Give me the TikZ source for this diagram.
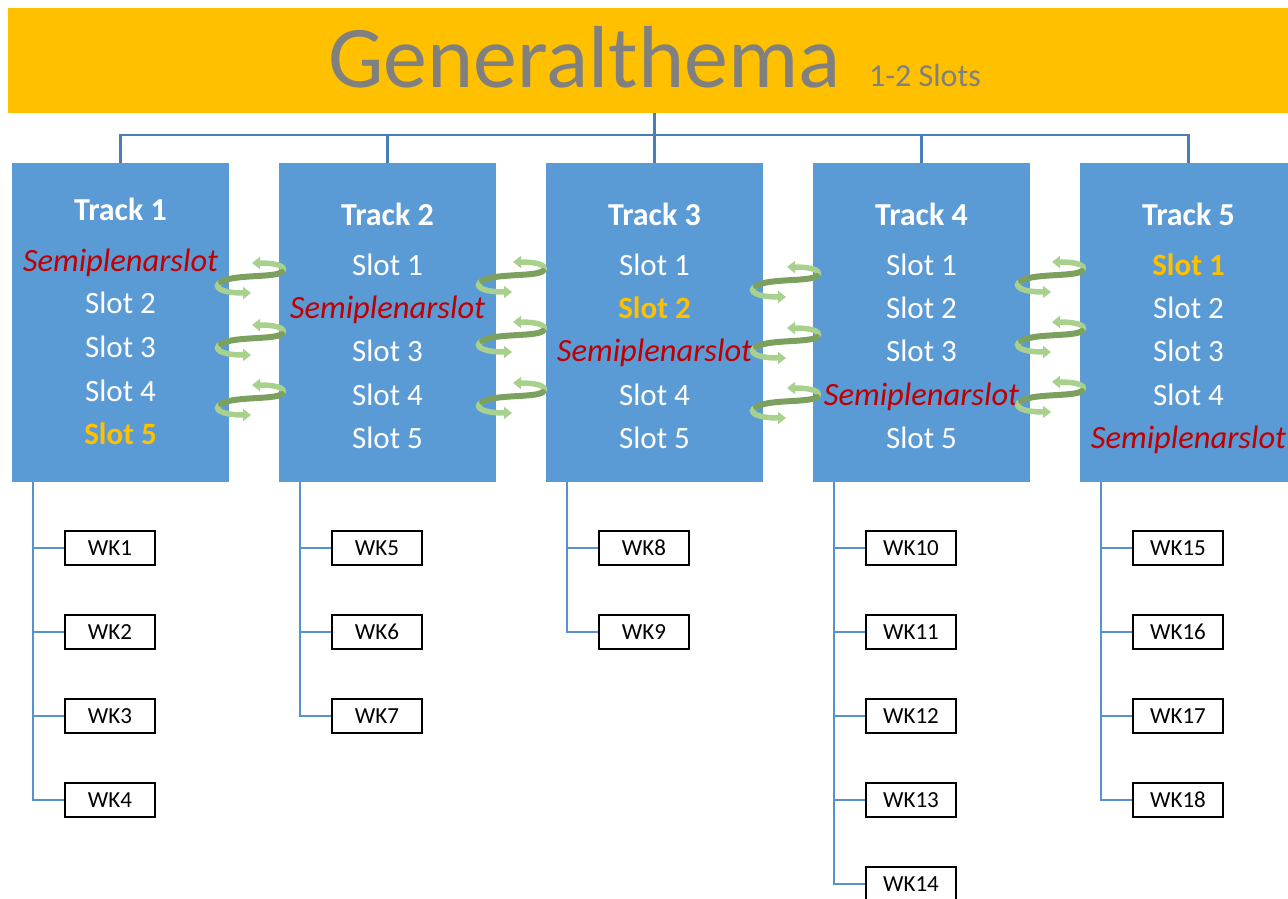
\documentclass[tikz,border=0pt]{standalone}
\usepackage{fontspec}
\setmainfont{Carlito}
\usetikzlibrary{arrows.meta}

\definecolor{barorange}{RGB}{255,192,0}
\definecolor{titlegray}{RGB}{128,128,128}
\definecolor{trackblue}{RGB}{91,155,213}
\definecolor{treeblue}{RGB}{74,126,187}
\definecolor{subblue}{RGB}{88,146,206}
\definecolor{semired}{RGB}{192,0,0}
\definecolor{swlight}{RGB}{169,209,142}
\definecolor{swdark}{RGB}{124,160,94}

\tikzset{
  trackbox/.style={fill=trackblue, draw=none, minimum width=217pt, minimum height=319pt, inner sep=0pt},
  tracktitle/.style={anchor=base, inner sep=0pt, text=white, font=\fontsize{32}{38}\selectfont\bfseries},
  slot/.style={anchor=base, inner sep=0pt, text=white, font=\fontsize{31}{37}\selectfont},
  hotslot/.style={anchor=base, inner sep=0pt, text=barorange, font=\fontsize{31}{37}\selectfont\bfseries},
  semislot/.style={anchor=base, inner sep=0pt, text=semired, font=\fontsize{32.5}{38}\selectfont\itshape},
  wkbox/.style={draw=black, line width=1.5pt, fill=white, minimum width=90pt, minimum height=34pt, inner sep=0pt, font=\fontsize{23}{27}\selectfont},
  treeline/.style={draw=treeblue, line width=2.5pt},
  subline/.style={draw=subblue, line width=2pt},
  swirl/.pic={
    \draw[swlight, line width=5.5pt, -{Triangle[length=8pt,width=12pt]}]
      (30,9) .. controls (36,2) and (20,0) .. (0,0);
    \draw[swlight, line width=5.5pt, -{Triangle[length=8pt,width=12pt]}]
      (-31,19) .. controls (-40,24) and (-31,30) .. (-1,30);
    \draw[swdark, line width=6pt, line cap=round]
      (30,9) .. controls (22,15) and (-18,11) .. (-31,19);
  }
}

\begin{document}
\begin{tikzpicture}[x=1pt, y=-1pt]
\useasboundingbox (0,0) rectangle (1288,899);
\begin{scope}
\clip (0,0) rectangle (1288,899);

% header bar
\node[fill=barorange, minimum width=1280pt, minimum height=105pt, inner sep=0pt] (title) at (648,60.5) {};
\node[anchor=base west, inner sep=0pt, text=titlegray, font=\fontsize{88}{100}\selectfont] (gt) at (328,88) {Generalthema};
\node[anchor=base west, inner sep=0pt, text=titlegray, font=\fontsize{32}{38}\selectfont] (gs) at (869,86) {1-2 Slots};

% track boxes
\node[trackbox] (t1) at (120.5,322.5) {};
\node[trackbox] (t2) at (387.5,322.5) {};
\node[trackbox] (t3) at (654.5,322.5) {};
\node[trackbox] (t4) at (921.5,322.5) {};
\node[trackbox] (t5) at (1188.5,322.5) {};

% header tree
\coordinate (hub) at (654.5,135);
\draw[treeline] (title.south -| hub) -- (hub);
\draw[treeline] (t1.north) -- (t1.north |- hub) -- (t5.north |- hub) -- (t5.north);
\draw[treeline] (t2.north) -- (t2.north |- hub);
\draw[treeline] (t3.north) -- (t3.north |- hub);
\draw[treeline] (t4.north) -- (t4.north |- hub);

% track 1
\node[tracktitle] (t1h) at (120.5,220) {Track 1};
\node[semislot]  (t1a) at (120.5,271) {Semiplenarslot};
\node[slot]      (t1b) at (120.5,313) {Slot 2};
\node[slot]      (t1c) at (120.5,357) {Slot 3};
\node[slot]      (t1d) at (120.5,401) {Slot 4};
\node[hotslot]   (t1e) at (120.5,444) {Slot 5};

% track 2
\node[tracktitle] (t2h) at (387.5,225) {Track 2};
\node[slot]      (t2a) at (387.5,275) {Slot 1};
\node[semislot]  (t2b) at (387.5,318) {Semiplenarslot};
\node[slot]      (t2c) at (387.5,361) {Slot 3};
\node[slot]      (t2d) at (387.5,405) {Slot 4};
\node[slot]      (t2e) at (387.5,448) {Slot 5};

% track 3
\node[tracktitle] (t3h) at (654.5,225) {Track 3};
\node[slot]      (t3a) at (654.5,275) {Slot 1};
\node[hotslot]   (t3b) at (654.5,318) {Slot 2};
\node[semislot]  (t3c) at (654.5,361) {Semiplenarslot};
\node[slot]      (t3d) at (654.5,405) {Slot 4};
\node[slot]      (t3e) at (654.5,448) {Slot 5};

% track 4
\node[tracktitle] (t4h) at (921.5,225) {Track 4};
\node[slot]      (t4a) at (921.5,275) {Slot 1};
\node[slot]      (t4b) at (921.5,318) {Slot 2};
\node[slot]      (t4c) at (921.5,361) {Slot 3};
\node[semislot]  (t4d) at (921.5,405) {Semiplenarslot};
\node[slot]      (t4e) at (921.5,448) {Slot 5};

% track 5
\node[tracktitle] (t5h) at (1188.5,225) {Track 5};
\node[hotslot]   (t5a) at (1188.5,275) {Slot 1};
\node[slot]      (t5b) at (1188.5,318) {Slot 2};
\node[slot]      (t5c) at (1188.5,361) {Slot 3};
\node[slot]      (t5d) at (1188.5,405) {Slot 4};
\node[semislot]  (t5e) at (1188.5,448) {Semiplenarslot};

% slot swap swirls between neighbouring tracks
\foreach \y in {263,325,385} \pic at (252,\y) {swirl};
\foreach \y in {262,322,383} \pic at (513,\y) {swirl};
\foreach \y in {267,328,388} \pic at (787,\y) {swirl};
\foreach \y in {262,322,382} \pic at (1052,\y) {swirl};

% workshops
\node[wkbox] (w1)  at (110,548) {WK1};
\node[wkbox] (w2)  at (110,632) {WK2};
\node[wkbox] (w3)  at (110,716) {WK3};
\node[wkbox] (w4)  at (110,800) {WK4};
\node[wkbox] (w5)  at (377,548) {WK5};
\node[wkbox] (w6)  at (377,632) {WK6};
\node[wkbox] (w7)  at (377,716) {WK7};
\node[wkbox] (w8)  at (644,548) {WK8};
\node[wkbox] (w9)  at (644,632) {WK9};
\node[wkbox] (w10) at (911,548) {WK10};
\node[wkbox] (w11) at (911,632) {WK11};
\node[wkbox] (w12) at (911,716) {WK12};
\node[wkbox] (w13) at (911,800) {WK13};
\node[wkbox] (w14) at (911,884) {WK14};
\node[wkbox] (w15) at (1178,548) {WK15};
\node[wkbox] (w16) at (1178,632) {WK16};
\node[wkbox] (w17) at (1178,716) {WK17};
\node[wkbox] (w18) at (1178,800) {WK18};

% workshop trees
\coordinate (r1) at (33,482);
\coordinate (r2) at (300,482);
\coordinate (r3) at (567,482);
\coordinate (r4) at (834,482);
\coordinate (r5) at (1101,482);

\draw[subline] (r1) |- (w4.west);
\foreach \w in {w1,w2,w3} \draw[subline] (r1 |- \w) -- (\w.west);
\draw[subline] (r2) |- (w7.west);
\foreach \w in {w5,w6} \draw[subline] (r2 |- \w) -- (\w.west);
\draw[subline] (r3) |- (w9.west);
\draw[subline] (r3 |- w8) -- (w8.west);
\draw[subline] (r4) |- (w14.west);
\foreach \w in {w10,w11,w12,w13} \draw[subline] (r4 |- \w) -- (\w.west);
\draw[subline] (r5) |- (w18.west);
\foreach \w in {w15,w16,w17} \draw[subline] (r5 |- \w) -- (\w.west);
\end{scope}
\end{tikzpicture}
\end{document}
